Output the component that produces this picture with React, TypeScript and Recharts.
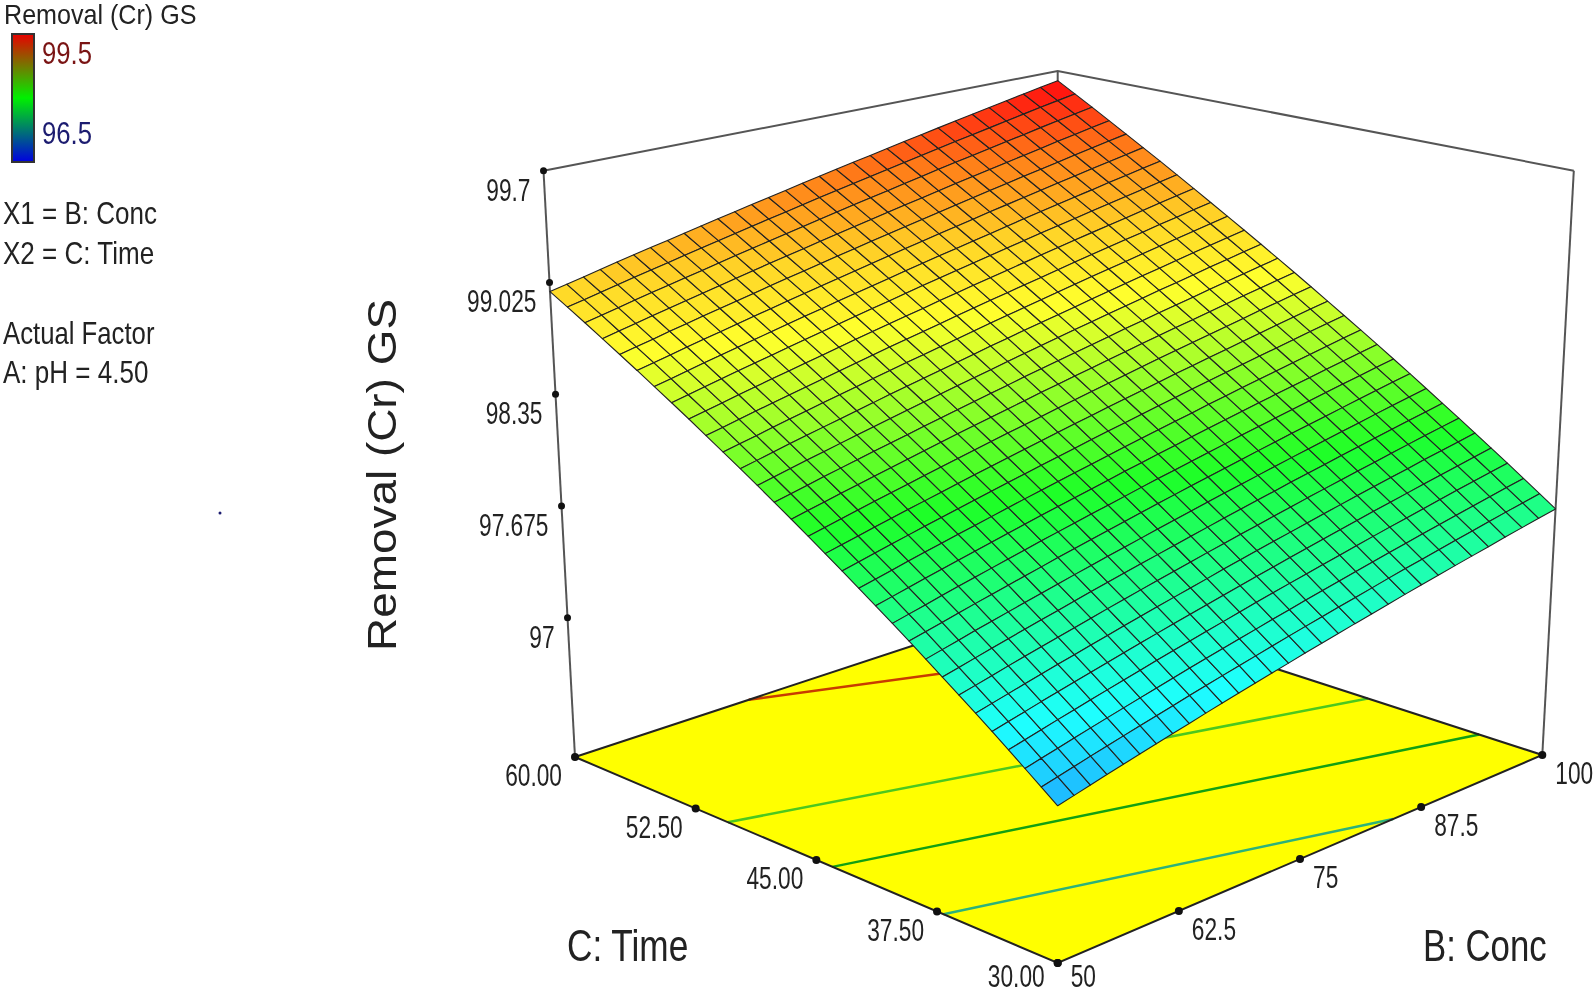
import { Scatter, ScatterChart, XAxis, YAxis } from 'recharts';

const WIDTH = 1593;
const HEIGHT = 994;

// axis ticks as printed on the plot
const concTicks = [50, 62.5, 75, 87.5, 100];
const concLabels = ['50', '62.5', '75', '87.5', '100'];
const timeTicks = [60, 52.5, 45, 37.5, 30];
const timeLabels = ['60.00', '52.50', '45.00', '37.50', '30.00'];
const removalTicks = [99.7, 99.025, 98.35, 97.675, 97];
const removalLabels = ['99.7', '99.025', '98.35', '97.675', '97'];

const REMOVAL_FLOOR = 96.159;
const REMOVAL_TOP = 99.7;

// mesh lines of the surface
const concGrid = [50, 51.67, 53.33, 55, 56.67, 58.33, 60, 61.67, 63.33, 65, 66.67, 68.33, 70, 71.67, 73.33, 75, 76.67, 78.33, 80, 81.67, 83.33, 85, 86.67, 88.33, 90, 91.67, 93.33, 95, 96.67, 98.33, 100];
const timeGrid = [60, 59, 58, 57, 56, 55, 54, 53, 52, 51, 50, 49, 48, 47, 46, 45, 44, 43, 42, 41, 40, 39, 38, 37, 36, 35, 34, 33, 32, 31, 30];

// removal, one row per timeGrid entry, one column per concGrid entry
const removalRows = [
  [98.97,98.992,99.014,99.037,99.059,99.081,99.103,99.125,99.147,99.17,99.192,99.214,99.236,99.258,99.28,99.303,99.325,99.347,99.369,99.391,99.413,99.436,99.458,99.48,99.502,99.524,99.546,99.569,99.591,99.613,99.635],
  [98.904,98.926,98.948,98.971,98.993,99.015,99.037,99.059,99.081,99.104,99.126,99.148,99.17,99.192,99.214,99.237,99.259,99.281,99.303,99.325,99.347,99.37,99.392,99.414,99.436,99.458,99.48,99.503,99.525,99.547,99.569],
  [98.838,98.86,98.882,98.905,98.927,98.949,98.971,98.993,99.015,99.038,99.06,99.082,99.104,99.126,99.148,99.171,99.193,99.215,99.237,99.259,99.281,99.304,99.326,99.348,99.37,99.392,99.414,99.437,99.459,99.481,99.503],
  [98.771,98.793,98.815,98.838,98.86,98.882,98.904,98.926,98.948,98.971,98.993,99.015,99.037,99.059,99.081,99.104,99.126,99.148,99.17,99.192,99.214,99.237,99.259,99.281,99.303,99.325,99.347,99.37,99.392,99.414,99.436],
  [98.705,98.727,98.749,98.772,98.794,98.816,98.838,98.86,98.882,98.905,98.927,98.949,98.971,98.993,99.015,99.038,99.06,99.082,99.104,99.126,99.148,99.171,99.193,99.215,99.237,99.259,99.281,99.304,99.326,99.348,99.37],
  [98.639,98.661,98.683,98.706,98.728,98.75,98.772,98.794,98.816,98.839,98.861,98.883,98.905,98.927,98.949,98.972,98.994,99.016,99.038,99.06,99.082,99.105,99.127,99.149,99.171,99.193,99.215,99.238,99.26,99.282,99.304],
  [98.573,98.595,98.617,98.64,98.662,98.684,98.706,98.728,98.75,98.773,98.795,98.817,98.839,98.861,98.883,98.906,98.928,98.95,98.972,98.994,99.016,99.039,99.061,99.083,99.105,99.127,99.149,99.172,99.194,99.216,99.238],
  [98.507,98.529,98.551,98.574,98.596,98.618,98.64,98.662,98.684,98.707,98.729,98.751,98.773,98.795,98.817,98.84,98.862,98.884,98.906,98.928,98.95,98.973,98.995,99.017,99.039,99.061,99.083,99.106,99.128,99.15,99.172],
  [98.441,98.463,98.485,98.508,98.53,98.552,98.574,98.596,98.618,98.641,98.663,98.685,98.707,98.729,98.751,98.774,98.796,98.818,98.84,98.862,98.884,98.907,98.929,98.951,98.973,98.995,99.017,99.04,99.062,99.084,99.106],
  [98.374,98.396,98.418,98.441,98.463,98.485,98.507,98.529,98.551,98.574,98.596,98.618,98.64,98.662,98.684,98.707,98.729,98.751,98.773,98.795,98.817,98.84,98.862,98.884,98.906,98.928,98.95,98.973,98.995,99.017,99.039],
  [98.308,98.33,98.352,98.375,98.397,98.419,98.441,98.463,98.485,98.508,98.53,98.552,98.574,98.596,98.618,98.641,98.663,98.685,98.707,98.729,98.751,98.774,98.796,98.818,98.84,98.862,98.884,98.907,98.929,98.951,98.973],
  [98.242,98.264,98.286,98.309,98.331,98.353,98.375,98.397,98.419,98.442,98.464,98.486,98.508,98.53,98.552,98.575,98.597,98.619,98.641,98.663,98.685,98.708,98.73,98.752,98.774,98.796,98.818,98.841,98.863,98.885,98.907],
  [98.176,98.198,98.22,98.243,98.265,98.287,98.309,98.331,98.353,98.376,98.398,98.42,98.442,98.464,98.486,98.509,98.531,98.553,98.575,98.597,98.619,98.642,98.664,98.686,98.708,98.73,98.752,98.775,98.797,98.819,98.841],
  [98.11,98.132,98.154,98.177,98.199,98.221,98.243,98.265,98.287,98.31,98.332,98.354,98.376,98.398,98.42,98.443,98.465,98.487,98.509,98.531,98.553,98.576,98.598,98.62,98.642,98.664,98.686,98.709,98.731,98.753,98.775],
  [98.044,98.066,98.088,98.111,98.133,98.155,98.177,98.199,98.221,98.244,98.266,98.288,98.31,98.332,98.354,98.377,98.399,98.421,98.443,98.465,98.487,98.51,98.532,98.554,98.576,98.598,98.62,98.643,98.665,98.687,98.709],
  [97.978,98,98.022,98.045,98.067,98.089,98.111,98.133,98.155,98.178,98.2,98.222,98.244,98.266,98.288,98.311,98.333,98.355,98.377,98.399,98.421,98.444,98.466,98.488,98.51,98.532,98.554,98.577,98.599,98.621,98.643],
  [97.911,97.933,97.955,97.978,98,98.022,98.044,98.066,98.088,98.111,98.133,98.155,98.177,98.199,98.221,98.244,98.266,98.288,98.31,98.332,98.354,98.377,98.399,98.421,98.443,98.465,98.487,98.51,98.532,98.554,98.576],
  [97.845,97.867,97.889,97.912,97.934,97.956,97.978,98,98.022,98.045,98.067,98.089,98.111,98.133,98.155,98.178,98.2,98.222,98.244,98.266,98.288,98.311,98.333,98.355,98.377,98.399,98.421,98.444,98.466,98.488,98.51],
  [97.779,97.801,97.823,97.846,97.868,97.89,97.912,97.934,97.956,97.979,98.001,98.023,98.045,98.067,98.089,98.112,98.134,98.156,98.178,98.2,98.222,98.245,98.267,98.289,98.311,98.333,98.355,98.378,98.4,98.422,98.444],
  [97.713,97.735,97.757,97.78,97.802,97.824,97.846,97.868,97.89,97.913,97.935,97.957,97.979,98.001,98.023,98.046,98.068,98.09,98.112,98.134,98.156,98.179,98.201,98.223,98.245,98.267,98.289,98.312,98.334,98.356,98.378],
  [97.647,97.669,97.691,97.714,97.736,97.758,97.78,97.802,97.824,97.847,97.869,97.891,97.913,97.935,97.957,97.98,98.002,98.024,98.046,98.068,98.09,98.113,98.135,98.157,98.179,98.201,98.223,98.246,98.268,98.29,98.312],
  [97.581,97.603,97.625,97.648,97.67,97.692,97.714,97.736,97.758,97.781,97.803,97.825,97.847,97.869,97.891,97.914,97.936,97.958,97.98,98.002,98.024,98.047,98.069,98.091,98.113,98.135,98.157,98.18,98.202,98.224,98.246],
  [97.514,97.536,97.558,97.581,97.603,97.625,97.647,97.669,97.691,97.714,97.736,97.758,97.78,97.802,97.824,97.847,97.869,97.891,97.913,97.935,97.957,97.98,98.002,98.024,98.046,98.068,98.09,98.113,98.135,98.157,98.179],
  [97.448,97.47,97.492,97.515,97.537,97.559,97.581,97.603,97.625,97.648,97.67,97.692,97.714,97.736,97.758,97.781,97.803,97.825,97.847,97.869,97.891,97.914,97.936,97.958,97.98,98.002,98.024,98.047,98.069,98.091,98.113],
  [97.382,97.404,97.426,97.449,97.471,97.493,97.515,97.537,97.559,97.582,97.604,97.626,97.648,97.67,97.692,97.715,97.737,97.759,97.781,97.803,97.825,97.848,97.87,97.892,97.914,97.936,97.958,97.981,98.003,98.025,98.047],
  [97.316,97.338,97.36,97.383,97.405,97.427,97.449,97.471,97.493,97.516,97.538,97.56,97.582,97.604,97.626,97.649,97.671,97.693,97.715,97.737,97.759,97.782,97.804,97.826,97.848,97.87,97.892,97.915,97.937,97.959,97.981],
  [97.25,97.272,97.294,97.317,97.339,97.361,97.383,97.405,97.427,97.45,97.472,97.494,97.516,97.538,97.56,97.583,97.605,97.627,97.649,97.671,97.693,97.716,97.738,97.76,97.782,97.804,97.826,97.849,97.871,97.893,97.915],
  [97.184,97.206,97.228,97.251,97.273,97.295,97.317,97.339,97.361,97.384,97.406,97.428,97.45,97.472,97.494,97.517,97.539,97.561,97.583,97.605,97.627,97.65,97.672,97.694,97.716,97.738,97.76,97.783,97.805,97.827,97.849],
  [97.117,97.139,97.161,97.184,97.206,97.228,97.25,97.272,97.294,97.317,97.339,97.361,97.383,97.405,97.427,97.45,97.472,97.494,97.516,97.538,97.56,97.583,97.605,97.627,97.649,97.671,97.693,97.716,97.738,97.76,97.782],
  [97.051,97.073,97.095,97.118,97.14,97.162,97.184,97.206,97.228,97.251,97.273,97.295,97.317,97.339,97.361,97.384,97.406,97.428,97.45,97.472,97.494,97.517,97.539,97.561,97.583,97.605,97.627,97.65,97.672,97.694,97.716],
  [96.985,97.007,97.029,97.052,97.074,97.096,97.118,97.14,97.162,97.185,97.207,97.229,97.251,97.273,97.295,97.318,97.34,97.362,97.384,97.406,97.428,97.451,97.473,97.495,97.517,97.539,97.561,97.584,97.606,97.628,97.65],
];

// contour lines on the floor, [conc, time] end points
const contourLow = [[50, 37.1], [84.6, 30]];
const contourMid = [[50, 44], [100, 33.9]];
const contourHigh = [[50, 50.5], [100, 40.8]];
const contourTop = [[68, 60], [100, 52]];

// screen corners of the box, the plot's own tick spacing is even along each edge
const FLOOR_BOX = { l: [575, 757], b: [1057.7, 598], r: [1542.3, 755], f: [1057.7, 963] };
const TOP_BOX = { l: [543.5, 170.7], b: [1057.7, 71], r: [1573.8, 170.7], f: [1057.7, 289] };

function bilerp(box: any, u: number, v: number, k: number) {
  return box.l[k] * (1 - u) * (1 - v) + box.b[k] * u * (1 - v) + box.r[k] * u * v + box.f[k] * (1 - u) * v;
}

// maps conc/time/removal onto the 1:1 chart axes
function project(conc: number, time: number, removal: number) {
  const u = (conc - 50) / 50;
  const v = (60 - time) / 30;
  const w = (removal - REMOVAL_FLOOR) / (REMOVAL_TOP - REMOVAL_FLOOR);
  return {
    x: bilerp(FLOOR_BOX, u, v, 0) * (1 - w) + bilerp(TOP_BOX, u, v, 0) * w,
    y: bilerp(FLOOR_BOX, u, v, 1) * (1 - w) + bilerp(TOP_BOX, u, v, 1) * w,
  };
}

const floorPt = (conc: number, time: number) => project(conc, time, REMOVAL_FLOOR);
const topPt = (conc: number, time: number) => project(conc, time, REMOVAL_TOP);
const contourPts = (c: number[][]) => c.map(([b, t]) => floorPt(b, t));

const COLOR_STOPS: [number, number[]][] = [
  [96.5, [30, 30, 255]],
  [97.25, [30, 255, 255]],
  [98, [30, 255, 40]],
  [98.7, [255, 255, 45]],
  [98.97, [255, 215, 40]],
  [99.3, [255, 130, 25]],
  [99.6, [255, 20, 15]],
];

function colorOf(z: number) {
  for (let i = 1; i < COLOR_STOPS.length; i++) {
    const [z1, c1] = COLOR_STOPS[i];
    if (z <= z1) {
      const [z0, c0] = COLOR_STOPS[i - 1];
      const t = Math.max(0, (z - z0) / (z1 - z0));
      return `rgb(${c0.map((c, k) => Math.round(c + (c1[k] - c) * t)).join(',')})`;
    }
  }
  return 'rgb(255,20,15)';
}

const cells: any[] = [];
timeGrid.slice(0, -1).forEach((time, j) => {
  concGrid.slice(0, -1).forEach((conc, i) => {
    const zs = [removalRows[j][i], removalRows[j][i + 1], removalRows[j + 1][i + 1], removalRows[j + 1][i]];
    const corners = [
      project(conc, time, zs[0]),
      project(concGrid[i + 1], time, zs[1]),
      project(concGrid[i + 1], timeGrid[j + 1], zs[2]),
      project(conc, timeGrid[j + 1], zs[3]),
    ];
    cells.push({ ...corners[0], corners, fill: colorOf((zs[0] + zs[1] + zs[2] + zs[3]) / 4) });
  });
});

const floorData = [{
  ...floorPt(50, 60),
  corners: [floorPt(50, 60), floorPt(100, 60), floorPt(100, 30), floorPt(50, 30)],
  fill: '#ffff00',
}];

// the polygon keeps its anchor from the chart scale, axes are 1px per unit
function Polygon(props: any) {
  const { cx, cy, payload, stroke, strokeWidth } = props;
  const pts = payload.corners.map((p: any) => `${cx + p.x - payload.x},${cy + p.y - payload.y}`).join(' ');
  return <polygon points={pts} fill={payload.fill} stroke={stroke} strokeWidth={strokeWidth} strokeLinejoin="round" />;
}

const NoMark = () => <g />;
const Dot = (r: number) => (props: any) => <circle cx={props.cx} cy={props.cy} r={r} fill="#111" />;

function Label({ x, y, size, sx = 1, fill = '#222', anchor = 'start', children }: any) {
  return (
    <text
      transform={`translate(${x},${y}) scale(${sx},1)`}
      fontFamily="Liberation Sans, Arial, sans-serif"
      fontSize={size}
      fill={fill}
      textAnchor={anchor}
    >
      {children}
    </text>
  );
}

// bottom row stops just short of the page edge
const TickLabel = (dx: number, dy: number, anchor: string) => (props: any) => (
  <Label x={props.cx + dx} y={Math.min(props.cy + dy, 987)} size={32} sx={0.71} anchor={anchor}>
    {props.payload.label}
  </Label>
);

const removalTickData = removalTicks.map((z, i) => ({ ...project(50, 60, z), label: removalLabels[i] }));
const timeTickData = timeTicks.map((t, i) => ({ ...floorPt(50, t), label: timeLabels[i] }));
const concTickData = concTicks.map((b, i) => ({ ...floorPt(b, 30), label: concLabels[i] }));

const BOX = { stroke: '#555', strokeWidth: 2 };
const EDGE = { stroke: '#222', strokeWidth: 2 };

function Edge({ pts, line }: any) {
  return <Scatter data={pts} line={line} shape={NoMark} isAnimationActive={false} />;
}

export default function App() {
  return (
    <div style={{ position: 'absolute', left: 0, top: 0, width: WIDTH, height: HEIGHT, background: '#fff', filter: 'blur(0.5px)' }}>
      <ScatterChart width={WIDTH} height={HEIGHT} margin={{ top: 0, right: 0, bottom: 0, left: 0 }}>
        <defs>
          <linearGradient id="legendBar" x1="0" y1="0" x2="0" y2="1">
            <stop offset="0" stopColor="#e80000" />
            <stop offset="0.5" stopColor="#00f000" />
            <stop offset="1" stopColor="#0000e0" />
          </linearGradient>
        </defs>
        <XAxis type="number" dataKey="x" domain={[0, WIDTH]} hide />
        <YAxis type="number" dataKey="y" domain={[0, HEIGHT]} reversed hide />

        {/* box behind the surface */}
        {Edge({ pts: [topPt(50, 60), topPt(100, 60), topPt(100, 30)], line: BOX })}
        {Edge({ pts: [topPt(50, 60), floorPt(50, 60)], line: BOX })}
        {Edge({ pts: [topPt(100, 30), floorPt(100, 30)], line: BOX })}
        {Edge({ pts: [topPt(100, 60), floorPt(100, 60)], line: BOX })}

        <Scatter data={floorData} shape={<Polygon />} isAnimationActive={false} />
        {Edge({ pts: contourPts(contourLow), line: { stroke: '#2cb27a', strokeWidth: 2.5 } })}
        {Edge({ pts: contourPts(contourMid), line: { stroke: '#12a012', strokeWidth: 2.5 } })}
        {Edge({ pts: contourPts(contourHigh), line: { stroke: '#4cc81e', strokeWidth: 2.5 } })}
        {Edge({ pts: contourPts(contourTop), line: { stroke: '#c83c00', strokeWidth: 2.5 } })}
        {Edge({ pts: [floorPt(50, 60), floorPt(100, 60), floorPt(100, 30), floorPt(50, 30), floorPt(50, 60)], line: EDGE })}

        <Scatter data={cells} shape={<Polygon stroke="#222" strokeWidth={1.1} />} isAnimationActive={false} />

        <Scatter data={removalTickData} shape={Dot(3.5)} isAnimationActive={false} />
        <Scatter data={timeTickData} shape={Dot(4)} isAnimationActive={false} />
        <Scatter data={concTickData} shape={Dot(4)} isAnimationActive={false} />
        <Scatter data={removalTickData} shape={TickLabel(-13, 30, 'end')} isAnimationActive={false} />
        <Scatter data={timeTickData} shape={TickLabel(-13, 29, 'end')} isAnimationActive={false} />
        <Scatter data={concTickData} shape={TickLabel(13, 29, 'start')} isAnimationActive={false} />

        {/* legend block */}
        <Label x={4} y={24} size={27} sx={0.93}>Removal (Cr) GS</Label>
        <rect x={12} y={34} width={22} height={128} fill="url(#legendBar)" stroke="#333" strokeWidth={2} />
        <Label x={42} y={64} size={31} sx={0.83} fill="#7a1414">99.5</Label>
        <Label x={42} y={144} size={31} sx={0.83} fill="#1c1c70">96.5</Label>
        <Label x={3} y={224} size={31} sx={0.84}>X1 = B: Conc</Label>
        <Label x={3} y={264} size={31} sx={0.84}>X2 = C: Time</Label>
        <Label x={3} y={344} size={31} sx={0.83}>Actual Factor</Label>
        <Label x={3} y={383} size={31} sx={0.84}>A: pH = 4.50</Label>
        <circle cx={220} cy={513} r={1.5} fill="#1c1c70" />

        {/* axis titles */}
        <text
          transform="translate(396,651) rotate(-90)"
          fontFamily="Liberation Sans, Arial, sans-serif"
          fontSize={40}
          fill="#222"
          textLength={352}
          lengthAdjust="spacingAndGlyphs"
        >
          Removal (Cr) GS
        </text>
        <Label x={567} y={961} size={44} sx={0.8}>C: Time</Label>
        <Label x={1423} y={961} size={44} sx={0.79}>B: Conc</Label>
      </ScatterChart>
    </div>
  );
}
